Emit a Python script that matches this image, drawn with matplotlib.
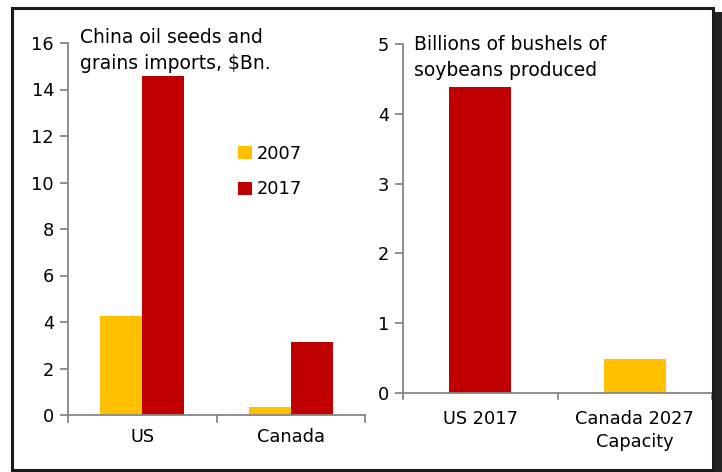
import matplotlib.pyplot as plt
import numpy as np
from matplotlib.patches import Rectangle

# china imports of oil seeds and grains, $Bn
countries = ["US", "Canada"]
imports_2007 = [4.27, 0.36]
imports_2017 = [14.57, 3.13]

# soybean production, billions of bushels
soy_labels = ["US 2017", "Canada 2027\nCapacity"]
soy_values = [4.39, 0.48]

RED = "#C00000"
GOLD = "#FFC000"
GREY = "#868686"

plt.rcParams["font.family"] = ["DejaVu Sans"]
plt.rcParams["font.size"] = 12

fig = plt.figure(figsize=(7.22, 4.72), dpi=100)
W, H = 722, 472


def px_axes(x0, y0, x1, y1):
    # axes placed by pixel box (top-left origin)
    return fig.add_axes([x0 / W, 1 - y1 / H, (x1 - x0) / W, (y1 - y0) / H])


def style_axes(ax, xpad=9):
    for s in ["top", "right"]:
        ax.spines[s].set_visible(False)
    for s in ["left", "bottom"]:
        ax.spines[s].set_color(GREY)
        ax.spines[s].set_linewidth(1.3)
    ax.tick_params(axis="y", direction="out", length=6, color=GREY, width=1.3, pad=4, labelsize=12.8)
    ax.tick_params(axis="x", length=0, pad=xpad, labelsize=12.8)


# left panel
ax1 = px_axes(68, 43, 365, 415)
x = np.arange(len(countries))
bw = 0.283
ax1.bar(x - bw / 2, imports_2007, bw, color=GOLD, label="2007")
ax1.bar(x + bw / 2, imports_2017, bw, color=RED, label="2017")
ax1.set_xlim(-0.5, 1.5)
ax1.set_ylim(0, 16)
ax1.set_yticks(range(0, 17, 2))
ax1.set_xticks(x)
ax1.set_xticklabels(countries)
style_axes(ax1)
for xb in [-0.5, 0.5, 1.5]:
    ax1.plot([xb, xb], [0, -0.28], color=GREY, lw=1.3, clip_on=False)
ax1.text(0.04, 1.04, "China oil seeds and\ngrains imports, $Bn.", transform=ax1.transAxes,
         va="top", ha="left", fontsize=13.5, linespacing=1.45)
ax1.legend(loc="upper left", bbox_to_anchor=(0.52, 0.77), frameon=False, fontsize=12.8,
           handlelength=0.75, handleheight=0.75, handletextpad=0.3, labelspacing=1.0)

# right panel
ax2 = px_axes(403, 44, 712, 393)
x2 = np.arange(len(soy_labels))
ax2.bar(x2, soy_values, 0.40, color=[RED, GOLD])
ax2.set_xlim(-0.5, 1.5)
ax2.set_ylim(0, 5)
ax2.set_yticks(range(0, 6))
ax2.set_xticks(x2)
ax2.set_xticklabels(soy_labels, linespacing=1.4)
style_axes(ax2, xpad=12)
for xb in [-0.5, 0.5, 1.5]:
    ax2.plot([xb, xb], [0, -0.09], color=GREY, lw=1.3, clip_on=False)
ax2.text(0.035, 1.025, "Billions of bushels of\nsoybeans produced", transform=ax2.transAxes,
         va="top", ha="left", fontsize=13.5, linespacing=1.45)

# outer frame and shadow strip
fig.patches.append(Rectangle((11.5 / W, 1 - 470 / H), (713 - 11.5) / W, (470 - 7.5) / H,
                             transform=fig.transFigure, fill=False, ec="#1a1a1a", lw=2.2))
fig.patches.append(Rectangle((714 / W, 0), 8 / W, 1 - 12 / H,
                             transform=fig.transFigure, color="#222222", lw=0))

fig.savefig("out.png", dpi=100)
